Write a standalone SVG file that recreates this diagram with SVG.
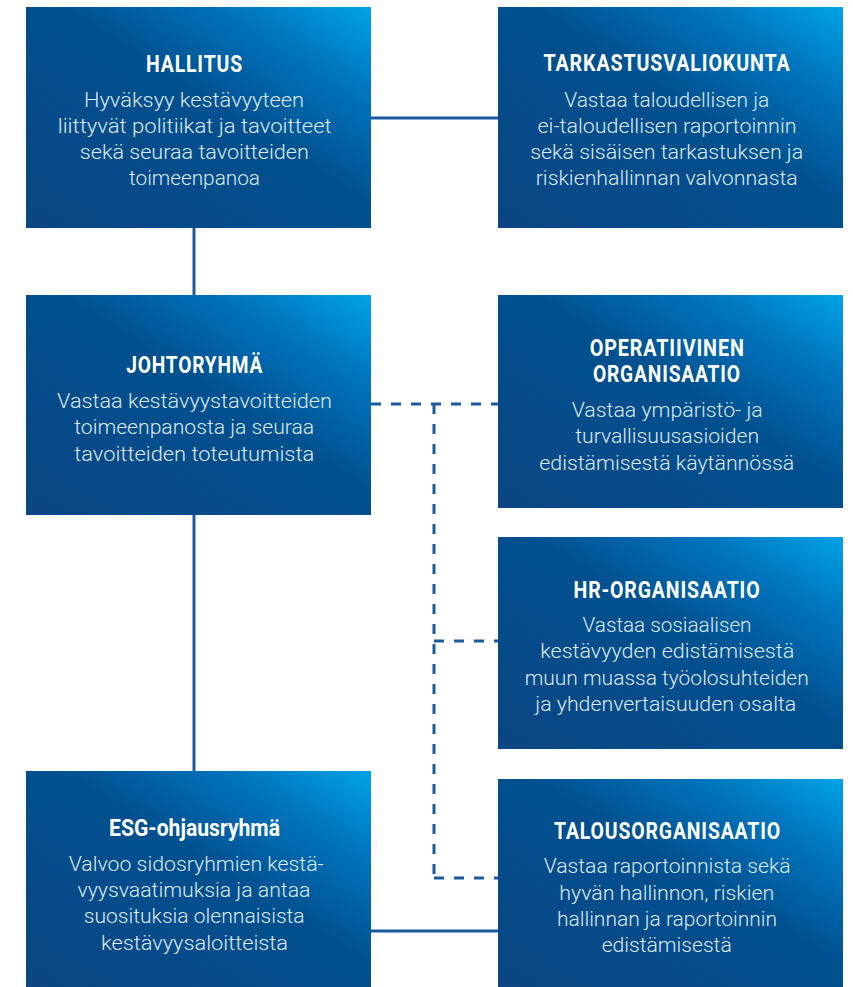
<svg xmlns="http://www.w3.org/2000/svg" width="853" height="987" viewBox="0 0 853 987">
<defs>
<linearGradient id="bg" x1="0" y1="1" x2="1" y2="0">
<stop offset="0" stop-color="#0c4583"/>
<stop offset="0.55" stop-color="#01508f"/>
<stop offset="0.8" stop-color="#0075bd"/>
<stop offset="1" stop-color="#00a3e6"/>
</linearGradient>
<style>
.box{fill:url(#bg)}
.t{font-family:Roboto,"Liberation Sans",sans-serif;font-weight:700;font-size:23px;fill:#ffffff;text-anchor:middle;letter-spacing:1px}
.b{font-family:Roboto,"Liberation Sans",sans-serif;font-weight:300;font-size:21px;fill:#dde9f5;text-anchor:middle}
.solid{stroke:#1b5a9c;stroke-width:3;fill:none}
.dash{stroke:#1b5a9c;stroke-width:3;fill:none;stroke-dasharray:10 10}
</style>
</defs>
<rect width="853" height="987" fill="#ffffff"/>
<g id="connectors">
<line class="solid" x1="371" y1="118" x2="498" y2="118"/>
<line class="solid" x1="194" y1="228" x2="194" y2="295"/>
<line class="solid" x1="194" y1="515" x2="194" y2="771"/>
<line class="solid" x1="371" y1="931" x2="498" y2="931"/>
<line class="dash" x1="371" y1="404" x2="498" y2="404"/>
<line class="dash" x1="434" y1="404" x2="434" y2="878"/>
<line class="dash" x1="434" y1="641" x2="498" y2="641"/>
<line class="dash" x1="434" y1="878" x2="498" y2="878"/>
</g>
<g id="hallitus">
<rect class="box" x="26" y="7" width="345" height="221"/>
<text class="t" x="194.5" y="72" textLength="97" lengthAdjust="spacingAndGlyphs">HALLITUS</text>
<text class="b" x="194" y="107" textLength="220" lengthAdjust="spacingAndGlyphs">Hyväksyy kestävyyteen</text>
<text class="b" x="194.7" y="133" textLength="274" lengthAdjust="spacingAndGlyphs">liittyvät politiikat ja tavoitteet</text>
<text class="b" x="194.3" y="159" textLength="229" lengthAdjust="spacingAndGlyphs">sekä seuraa tavoitteiden</text>
<text class="b" x="194.5" y="185" textLength="131" lengthAdjust="spacingAndGlyphs">toimeenpanoa</text>
</g>
<g id="tarkastusvaliokunta">
<rect class="box" x="498" y="7" width="345" height="221"/>
<text class="t" x="667" y="71" textLength="247" lengthAdjust="spacingAndGlyphs">TARKASTUSVALIOKUNTA</text>
<text class="b" x="666.7" y="107" textLength="205" lengthAdjust="spacingAndGlyphs">Vastaa taloudellisen ja</text>
<text class="b" x="667" y="133" textLength="259" lengthAdjust="spacingAndGlyphs">ei-taloudellisen raportoinnin</text>
<text class="b" x="666.7" y="159" textLength="273" lengthAdjust="spacingAndGlyphs">sekä sisäisen tarkastuksen ja</text>
<text class="b" x="666.7" y="185" textLength="262" lengthAdjust="spacingAndGlyphs">riskienhallinnan valvonnasta</text>
</g>
<g id="johtoryhma">
<rect class="box" x="26" y="295" width="345" height="220"/>
<text class="t" x="194.7" y="373" textLength="137" lengthAdjust="spacingAndGlyphs">JOHTORYHMÄ</text>
<text class="b" x="194.5" y="408" textLength="275" lengthAdjust="spacingAndGlyphs">Vastaa kestävyystavoitteiden</text>
<text class="b" x="194.2" y="434" textLength="240" lengthAdjust="spacingAndGlyphs">toimeenpanosta ja seuraa</text>
<text class="b" x="194.2" y="461" textLength="240" lengthAdjust="spacingAndGlyphs">tavoitteiden toteutumista</text>
</g>
<g id="operatiivinen">
<rect class="box" x="498" y="295" width="345" height="213"/>
<text class="t" x="667.2" y="356" textLength="155" lengthAdjust="spacingAndGlyphs">OPERATIIVINEN</text>
<text class="t" x="666.9" y="382" textLength="148" lengthAdjust="spacingAndGlyphs">ORGANISAATIO</text>
<text class="b" x="667.2" y="417" textLength="191" lengthAdjust="spacingAndGlyphs">Vastaa ympäristö- ja</text>
<text class="b" x="667.2" y="443" textLength="184" lengthAdjust="spacingAndGlyphs">turvallisuusasioiden</text>
<text class="b" x="666.8" y="470" textLength="255" lengthAdjust="spacingAndGlyphs">edistämisestä käytännössä</text>
</g>
<g id="hr-organisaatio">
<rect class="box" x="498" y="537" width="345" height="212"/>
<text class="t" x="667" y="598" textLength="187" lengthAdjust="spacingAndGlyphs">HR-ORGANISAATIO</text>
<text class="b" x="667" y="632" textLength="169" lengthAdjust="spacingAndGlyphs">Vastaa sosiaalisen</text>
<text class="b" x="667.2" y="658" textLength="254" lengthAdjust="spacingAndGlyphs">kestävyyden edistämisestä</text>
<text class="b" x="666.7" y="685" textLength="284" lengthAdjust="spacingAndGlyphs">muun muassa työolosuhteiden</text>
<text class="b" x="665.8" y="711" textLength="261" lengthAdjust="spacingAndGlyphs">ja yhdenvertaisuuden osalta</text>
</g>
<g id="esg-ohjausryhma">
<rect class="box" x="26" y="771" width="345" height="216"/>
<text class="t" x="194.5" y="836" textLength="171" lengthAdjust="spacingAndGlyphs" style="letter-spacing:0">ESG-ohjausryhmä</text>
<text class="b" x="196.2" y="871" textLength="255" lengthAdjust="spacingAndGlyphs">Valvoo sidosryhmien kestä-</text>
<text class="b" x="194" y="897" textLength="233" lengthAdjust="spacingAndGlyphs">vyysvaatimuksia ja antaa</text>
<text class="b" x="194.2" y="923" textLength="221" lengthAdjust="spacingAndGlyphs">suosituksia olennaisista</text>
<text class="b" x="194.5" y="950" textLength="187" lengthAdjust="spacingAndGlyphs">kestävyysaloitteista</text>
</g>
<g id="talousorganisaatio">
<rect class="box" x="498" y="779" width="345" height="208"/>
<text class="t" x="667.5" y="839" textLength="227" lengthAdjust="spacingAndGlyphs">TALOUSORGANISAATIO</text>
<text class="b" x="667.2" y="873" textLength="247" lengthAdjust="spacingAndGlyphs">Vastaa raportoinnista sekä</text>
<text class="b" x="666.8" y="900" textLength="215" lengthAdjust="spacingAndGlyphs">hyvän hallinnon, riskien</text>
<text class="b" x="667" y="926" textLength="220" lengthAdjust="spacingAndGlyphs">hallinnan ja raportoinnin</text>
<text class="b" x="666.7" y="952" textLength="130" lengthAdjust="spacingAndGlyphs">edistämisestä</text>
</g>
</svg>
